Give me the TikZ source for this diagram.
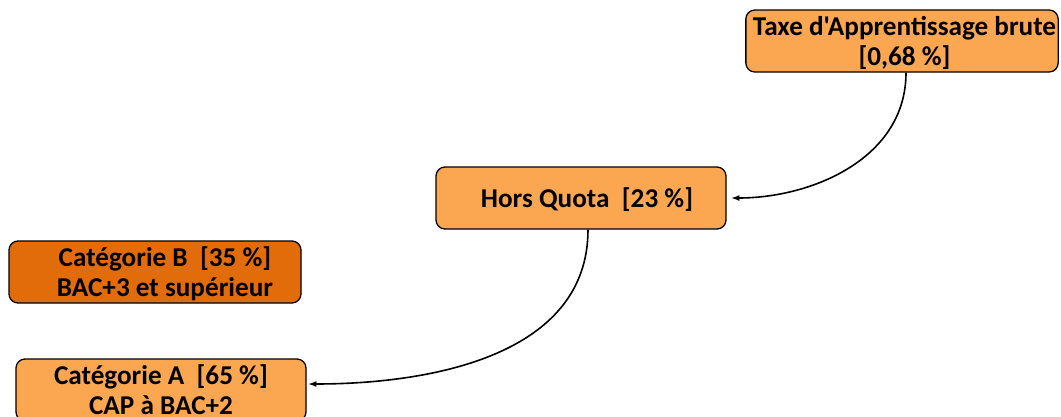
\documentclass[tikz,border=0pt]{standalone}
\usepackage{fontspec}
\setmainfont{Carlito}[Ligatures=TeXOff]
\definecolor{orangeclair}{HTML}{FBA650}
\definecolor{orangefonce}{HTML}{E36C0A}
\tikzset{
  boite/.style={draw=black, line width=1.3pt, rounded corners=9pt, fill=orangeclair,
    minimum height=62pt, align=center, inner sep=2pt, text depth=0pt,
    font=\fontsize{27.2}{30}\selectfont\bfseries},
  fleche/.style={->, >=latex, line width=1.6pt}
}
\begin{document}
\begin{tikzpicture}[x=1pt,y=-1pt]
\useasboundingbox (0,0) rectangle (1061,416);
\begin{scope}
\clip (0,0) rectangle (1061,416);
\node [boite, minimum width=312pt] (taxe) at (902,41) {\hspace{5pt}Taxe d'Apprentissage brute\\\hspace{5pt}[0,68 \%]};
\node [boite, minimum width=290pt] (hors) at (581,198) {\hspace{12pt}Hors Quota~~[23 \%]};
\node [boite, minimum width=292pt, fill=orangefonce] (catb) at (155,272) {\hspace{20pt}Catégorie B~~[35 \%]\\\hspace{20pt}BAC+3 et supérieur};
\node [boite, minimum width=290pt, text depth=] (cata) at (161,390) {Catégorie A~~[65 \%]\\CAP à BAC+2};

\draw [fleche, shorten >=5pt] ([xshift=4pt]taxe.south) to [out=-90, in=0] (hors.east) ;
\draw [fleche, shorten >=2pt] ([xshift=7pt]hors.south) to [out=-90, in=0] ([yshift=6pt]cata.east) ;
\end{scope}
\end{tikzpicture}
\end{document}
